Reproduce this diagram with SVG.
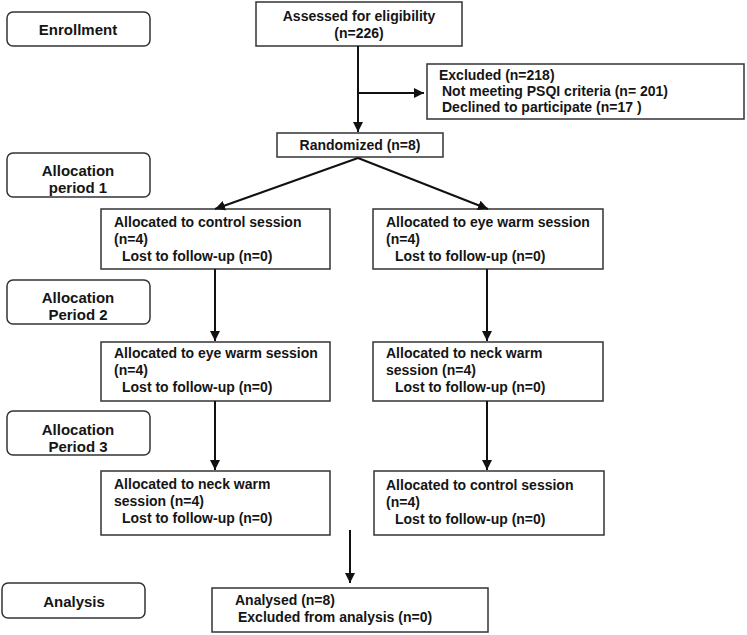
<svg xmlns="http://www.w3.org/2000/svg" width="747" height="635" viewBox="0 0 747 635">
<defs>
<marker id="ah" viewBox="0 0 10 10" refX="10" refY="5" markerWidth="5" markerHeight="5" orient="auto" markerUnits="strokeWidth"><path d="M0,0 L10,5 L0,10 z" fill="#111"/></marker>
<style>
.box{fill:#fff;stroke:#333;stroke-width:1.5}
.t{font-family:"Liberation Sans",Arial,sans-serif;font-size:14px;font-weight:bold;fill:#151515}
.s{font-size:15px}
.c{text-anchor:middle}
.ln{stroke:#111;stroke-width:2;fill:none}
.ar{stroke:#111;stroke-width:2;fill:none;marker-end:url(#ah)}
</style>
</defs>
<rect width="747" height="635" fill="#fff"/>
<g id="stage-enrollment"><rect class="box" x="7" y="12" width="143" height="34" rx="6"/><text class="t s c" x="78" y="35">Enrollment</text></g>
<g id="stage-alloc1"><rect class="box" x="7" y="153" width="143" height="44" rx="6"/><text class="t s c" x="78" y="176">Allocation</text><text class="t s c" x="78" y="193">period 1</text></g>
<g id="stage-alloc2"><rect class="box" x="7" y="280" width="143" height="44" rx="6"/><text class="t s c" x="78" y="303">Allocation</text><text class="t s c" x="78" y="320">Period 2</text></g>
<g id="stage-alloc3"><rect class="box" x="7" y="411" width="143" height="44" rx="6"/><text class="t s c" x="78" y="435">Allocation</text><text class="t s c" x="78" y="452">Period 3</text></g>
<g id="stage-analysis"><rect class="box" x="2" y="583" width="143" height="35" rx="6"/><text class="t s c" x="74" y="607">Analysis</text></g>

<g id="assessed"><rect class="box" x="256" y="2" width="206" height="44"/><text class="t c" x="359" y="21">Assessed for eligibility</text><text class="t c" x="359" y="38">(n=226)</text></g>
<g id="excluded"><rect class="box" x="427" y="64" width="317" height="55"/><text class="t" x="439" y="80">Excluded (n=218)</text><text class="t" x="442" y="96">Not meeting PSQI criteria (n= 201)</text><text class="t" x="442" y="112">Declined to participate (n=17 )</text></g>
<g id="randomized"><rect class="box" x="277" y="133" width="166" height="24"/><text class="t c" x="360" y="150">Randomized (n=8)</text></g>

<g id="a1"><rect class="box" x="101" y="209" width="229" height="60"/><text class="t" x="114" y="227">Allocated to control session</text><text class="t" x="114" y="244">(n=4)</text><text class="t" x="122" y="261">Lost to follow-up (n=0)</text></g>
<g id="b1"><rect class="box" x="373" y="209" width="230" height="60"/><text class="t" x="386" y="227">Allocated to eye warm session</text><text class="t" x="386" y="244">(n=4)</text><text class="t" x="395" y="261">Lost to follow-up (n=0)</text></g>
<g id="a2"><rect class="box" x="101" y="342" width="229" height="59"/><text class="t" x="114" y="358">Allocated to eye warm session</text><text class="t" x="114" y="375">(n=4)</text><text class="t" x="122" y="392">Lost to follow-up (n=0)</text></g>
<g id="b2"><rect class="box" x="373" y="342" width="230" height="59"/><text class="t" x="386" y="358">Allocated to neck warm</text><text class="t" x="386" y="375">session (n=4)</text><text class="t" x="395" y="392">Lost to follow-up (n=0)</text></g>
<g id="a3"><rect class="box" x="101" y="471" width="229" height="64"/><text class="t" x="114" y="489">Allocated to neck warm</text><text class="t" x="114" y="506">session (n=4)</text><text class="t" x="122" y="523">Lost to follow-up (n=0)</text></g>
<g id="b3"><rect class="box" x="374" y="471" width="230" height="64"/><text class="t" x="386" y="490">Allocated to control session</text><text class="t" x="386" y="507">(n=4)</text><text class="t" x="395" y="524">Lost to follow-up (n=0)</text></g>
<g id="analysed"><rect class="box" x="212" y="588" width="276" height="44"/><text class="t" x="235" y="605">Analysed  (n=8)</text><text class="t" x="238" y="622">Excluded from analysis (n=0)</text></g>

<g id="connectors">
<line class="ar" x1="358" y1="46" x2="358" y2="132"/>
<line class="ar" x1="358" y1="93" x2="424" y2="93"/>
<line class="ar" x1="358" y1="158" x2="215" y2="209"/>
<line class="ar" x1="358" y1="158" x2="488" y2="209"/>
<line class="ar" x1="215" y1="269" x2="215" y2="341"/>
<line class="ar" x1="487" y1="269" x2="487" y2="341"/>
<line class="ar" x1="215" y1="401" x2="215" y2="470"/>
<line class="ar" x1="487" y1="401" x2="487" y2="470"/>
<line class="ar" x1="350" y1="530" x2="350" y2="583"/>
</g>
</svg>
